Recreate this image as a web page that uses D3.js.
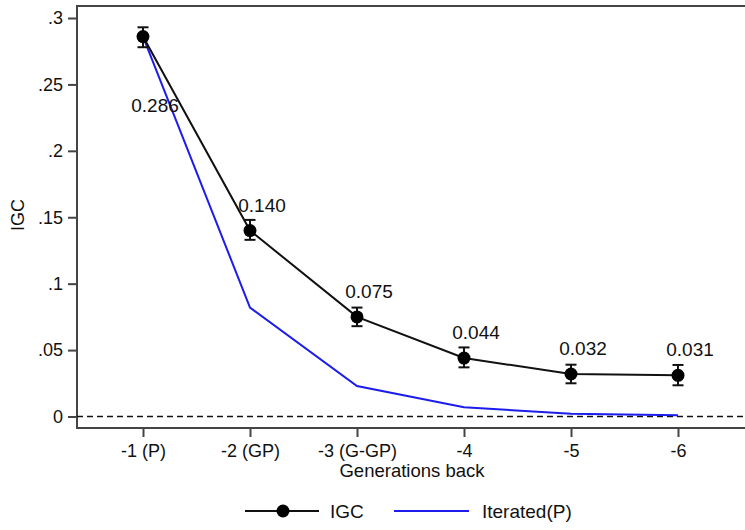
<!DOCTYPE html>
<html>
<head>
<meta charset="utf-8">
<script src="https://cdn.jsdelivr.net/npm/d3@7"></script>
<style>
  body { margin: 0; background: #fff; }
  svg { font-family: "Liberation Sans", Arial, sans-serif; }
</style>
</head>
<body>
<div class="chart"></div>
<script>
// data
var generations = ["-1 (P)", "-2 (GP)", "-3 (G-GP)", "-4", "-5", "-6"];
var igc = [0.286, 0.140, 0.075, 0.044, 0.032, 0.031];
var igcLow = [0.278, 0.133, 0.068, 0.037, 0.025, 0.0235];
var igcHigh = [0.293, 0.148, 0.082, 0.052, 0.039, 0.0388];
var iterated = [0.286, 0.082, 0.023, 0.007, 0.002, 0.001];
var yTicks = [0, 0.05, 0.1, 0.15, 0.2, 0.25, 0.3];

var w = 745, h = 530;
var plotLeft = 77, plotTop = 6, plotBottom = 428, plotRight = 760;

var svg = d3.select("div.chart")
            .append("svg")
            .attr("width", w)
            .attr("height", h);

var x = d3.scalePoint()
    .domain(generations)
    .range([143, 678]);

var y = d3.scaleLinear()
    .domain([0, 0.3])
    .range([416.5, 18]);

//plot frame
svg.append("rect")
    .attr("x", plotLeft)
    .attr("y", plotTop)
    .attr("width", plotRight - plotLeft)
    .attr("height", plotBottom - plotTop)
    .attr("fill", "none")
    .attr("stroke", "#444")
    .attr("stroke-width", 2);

//y axis
var yAxis = svg.append("g")
    .attr("transform", "translate(" + plotLeft + ",0)")
    .call(d3.axisLeft(y)
      .tickValues(yTicks)
      .tickSize(9)
      .tickPadding(5)
      .tickFormat(function(d){ return d === 0 ? "0" : d3.format(".2~f")(d).replace(/^0/, ""); }));
yAxis.select(".domain").remove();
yAxis.selectAll("line").attr("stroke", "#444").attr("stroke-width", 2);
yAxis.selectAll("text").attr("font-size", 18).attr("fill", "#111");

//x axis
var xAxis = svg.append("g")
    .attr("transform", "translate(0," + plotBottom + ")")
    .call(d3.axisBottom(x).tickSize(9).tickPadding(7));
xAxis.select(".domain").remove();
xAxis.selectAll("line").attr("stroke", "#444").attr("stroke-width", 2);
xAxis.selectAll("text").attr("font-size", 18).attr("fill", "#111");

//zero line
svg.append("line")
    .attr("x1", plotLeft)
    .attr("x2", plotRight)
    .attr("y1", y(0))
    .attr("y2", y(0))
    .attr("stroke", "#111")
    .attr("stroke-width", 1.5)
    .attr("stroke-dasharray", "6,4");

//axis titles
svg.append("text")
    .attr("transform", "translate(24,215)rotate(-90)")
    .attr("text-anchor", "middle")
    .attr("font-size", 18)
    .attr("fill", "#111")
    .text("IGC");

svg.append("text")
    .attr("x", 412)
    .attr("y", 477)
    .attr("text-anchor", "middle")
    .attr("font-size", 18.5)
    .attr("fill", "#111")
    .text("Generations back");

//iterated line
var line = d3.line()
    .x(function(d, i){ return x(generations[i]); })
    .y(function(d){ return y(d); });

svg.append("path")
    .datum(iterated)
    .attr("d", line)
    .attr("fill", "none")
    .attr("stroke", "#1c1cec")
    .attr("stroke-width", 2);

//igc line
svg.append("path")
    .datum(igc)
    .attr("d", line)
    .attr("fill", "none")
    .attr("stroke", "#111")
    .attr("stroke-width", 2);

//error bars
var bars = svg.selectAll(".err")
    .data(igc)
    .enter()
    .append("g")
    .attr("class", "err");

bars.append("line")
    .attr("x1", function(d, i){ return x(generations[i]); })
    .attr("x2", function(d, i){ return x(generations[i]); })
    .attr("y1", function(d, i){ return y(igcLow[i]); })
    .attr("y2", function(d, i){ return y(igcHigh[i]); })
    .attr("stroke", "#111")
    .attr("stroke-width", 2);

[igcLow, igcHigh].forEach(function(arr){
  bars.append("line")
      .attr("x1", function(d, i){ return x(generations[i]) - 5.5; })
      .attr("x2", function(d, i){ return x(generations[i]) + 5.5; })
      .attr("y1", function(d, i){ return y(arr[i]); })
      .attr("y2", function(d, i){ return y(arr[i]); })
      .attr("stroke", "#111")
      .attr("stroke-width", 2);
});

bars.append("circle")
    .attr("cx", function(d, i){ return x(generations[i]); })
    .attr("cy", function(d){ return y(d); })
    .attr("r", 6.5)
    .attr("fill", "#000");

//value labels (first one sits below the point)
bars.append("text")
    .attr("x", function(d, i){ return x(generations[i]) + 12; })
    .attr("y", function(d, i){ return i === 0 ? y(d) + 75 : y(d) - 19; })
    .attr("text-anchor", "middle")
    .attr("font-size", 19)
    .attr("fill", "#111")
    .text(function(d){ return d3.format(".3f")(d); });

//legend
var legend = svg.append("g").attr("transform", "translate(0,511)");
legend.append("line")
    .attr("x1", 245).attr("x2", 319)
    .attr("stroke", "#111").attr("stroke-width", 2);
legend.append("circle")
    .attr("cx", 283).attr("r", 6.5).attr("fill", "#000");
legend.append("text")
    .attr("x", 330).attr("y", 7)
    .attr("font-size", 19).attr("fill", "#111")
    .text("IGC");
legend.append("line")
    .attr("x1", 394).attr("x2", 469)
    .attr("stroke", "#1c1cec").attr("stroke-width", 2);
legend.append("text")
    .attr("x", 482).attr("y", 7)
    .attr("font-size", 19).attr("fill", "#111")
    .text("Iterated(P)");
</script>
</body>
</html>
